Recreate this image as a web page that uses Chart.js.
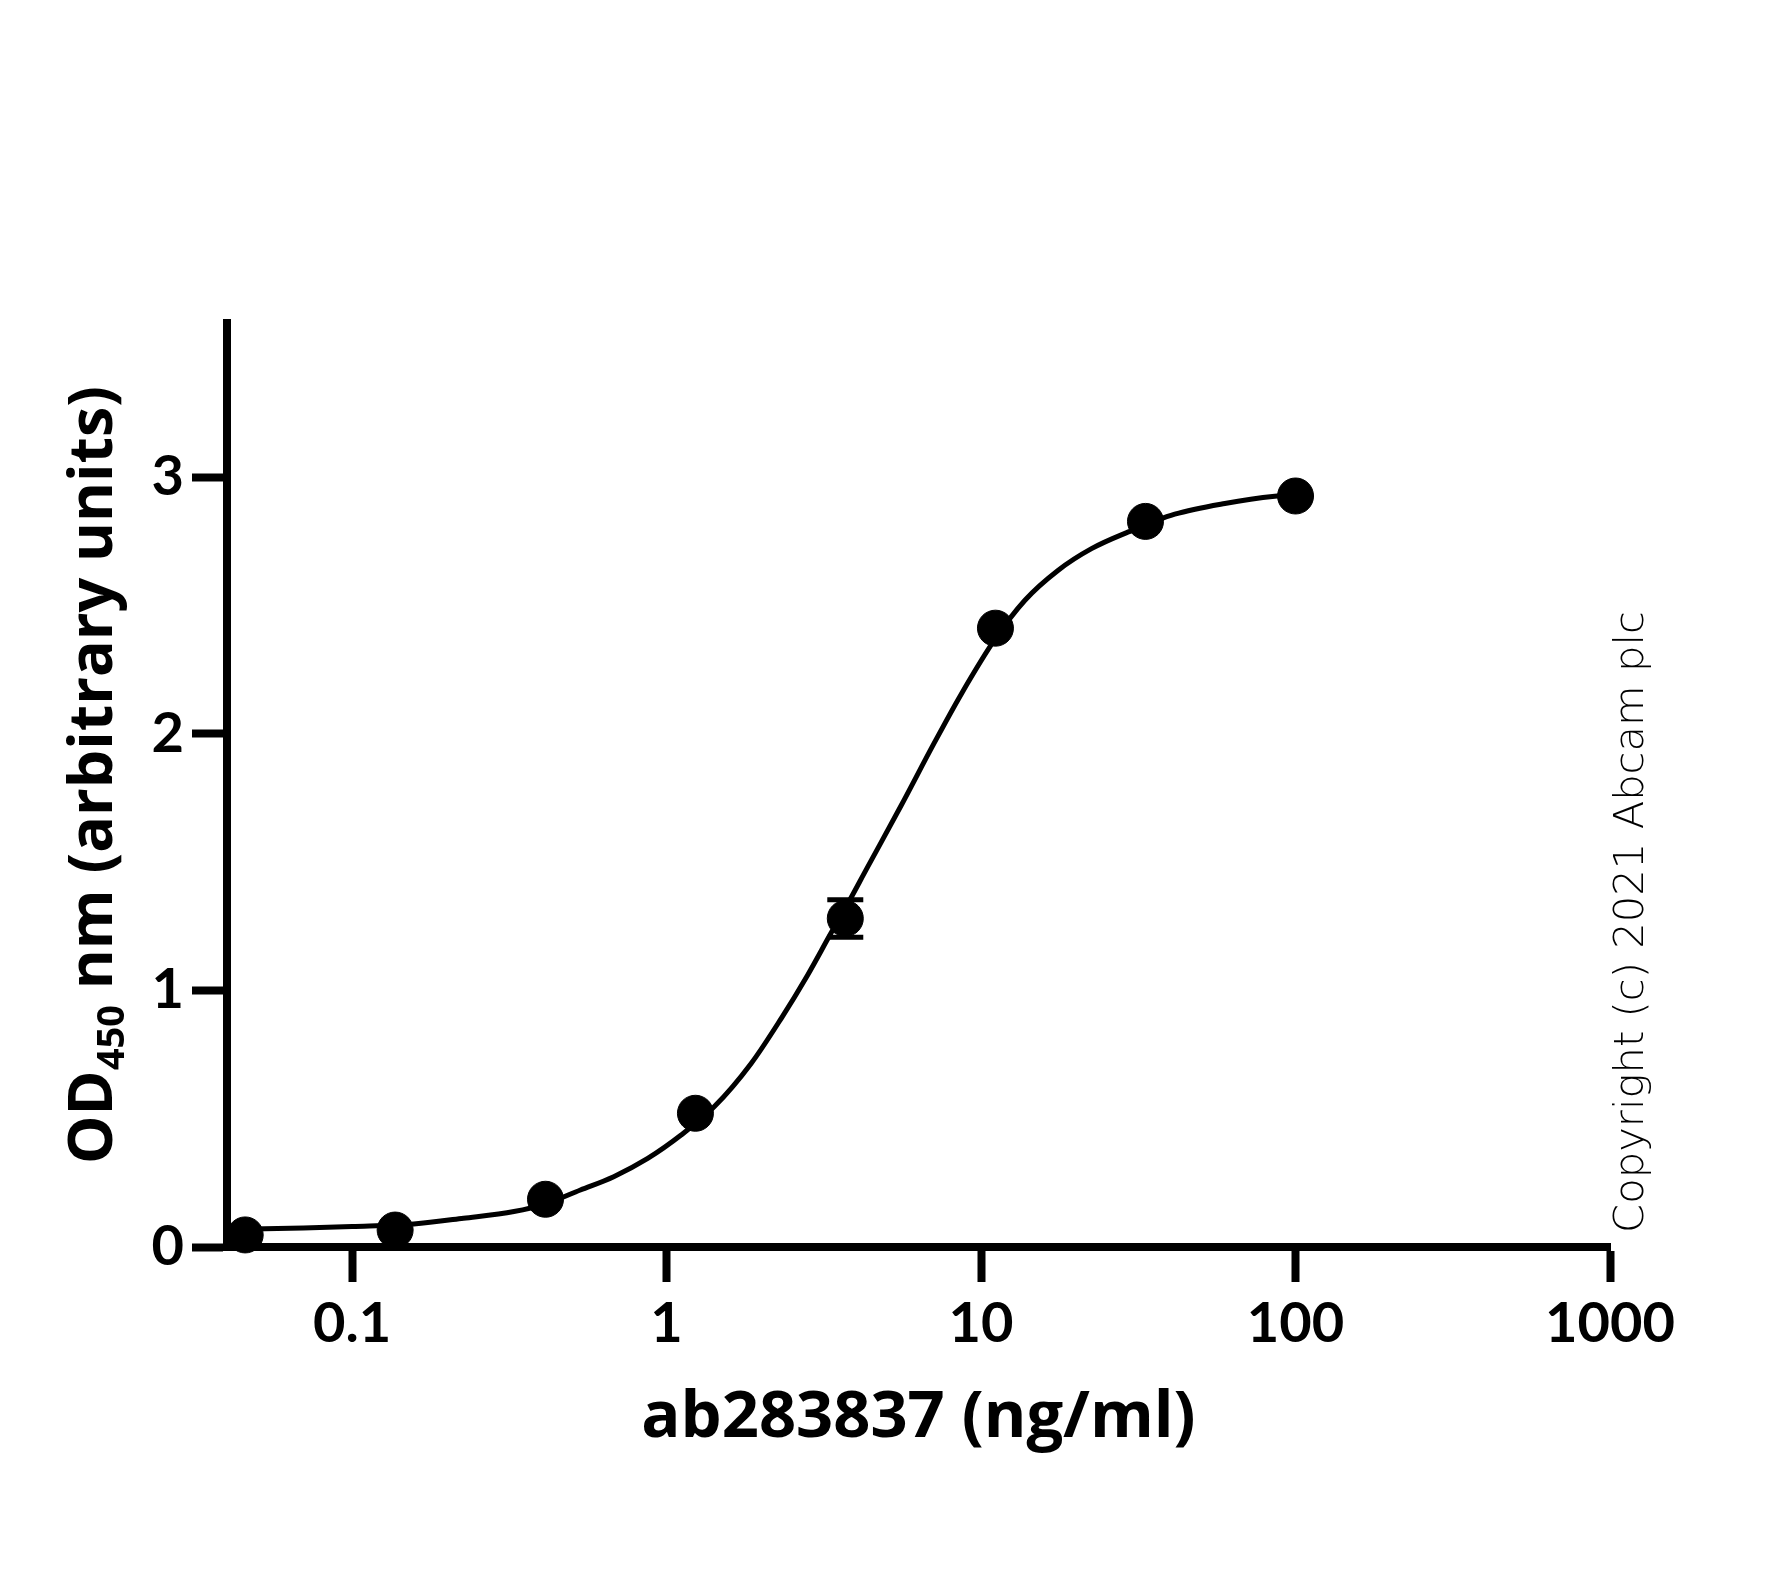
<!DOCTYPE html>
<html>
<head>
<meta charset="utf-8">
<script src="https://cdn.jsdelivr.net/npm/chart.js@4.4.1/dist/chart.umd.min.js"></script>
<style>
  html, body { margin: 0; padding: 0; background: #fff; }
  #wrap { width: 1789px; height: 1575px; position: relative; }
</style>
</head>
<body>
<div id="wrap"><canvas id="grafico"></canvas></div>
<script>
// concentracion (ng/ml) y OD450 medidos
const concentraciones = [0.0457, 0.137, 0.412, 1.235, 3.70, 11.11, 33.33, 100];
const od450 = [0.047, 0.066, 0.186, 0.521, 1.280, 2.411, 2.827, 2.926];
const errorOd = [0, 0, 0, 0, 0.073, 0, 0, 0];

// curva ajustada
const curvaX = [0.0457, 0.07, 0.1, 0.157, 0.226, 0.327, 0.41, 0.532, 0.679, 0.871, 1.112, 1.419, 1.857, 2.313, 2.81, 3.33, 3.7, 4.36, 5.57, 7.07, 8.61, 11.1, 13.79, 17.6, 22.45, 29.4, 41.3, 59.6, 85.9, 100];
const curvaY = [0.07, 0.074, 0.08, 0.09, 0.112, 0.138, 0.167, 0.222, 0.274, 0.345, 0.436, 0.547, 0.715, 0.89, 1.06, 1.222, 1.32, 1.481, 1.72, 1.96, 2.15, 2.37, 2.52, 2.637, 2.721, 2.786, 2.855, 2.897, 2.925, 2.93];

const ticksX = [0.1, 1, 10, 100, 1000];
const ticksY = [0, 1, 2, 3];

const tituloX = "ab283837 (ng/ml)";
const tituloY = [["OD", "main"], ["450", "sub"], [" nm (arbitrary units)", "main"]];
const copyright = "Copyright (c) 2021 Abcam plc";

const FUENTE = "Lato, 'Noto Sans', sans-serif";
const FUENTE_TIT = "'Open Sans', Lato, sans-serif";

const puntos = concentraciones.map((x, i) => ({ x: x, y: od450[i] }));
const curva = curvaX.map((x, i) => ({ x: x, y: curvaY[i] }));

// barras de error
const barrasError = {
  id: "barrasError",
  afterDatasetsDraw(chart) {
    const ctx = chart.ctx;
    const sx = chart.scales.x, sy = chart.scales.y;
    ctx.save();
    ctx.strokeStyle = "#000";
    ctx.lineWidth = 5;
    concentraciones.forEach((c, i) => {
      if (!errorOd[i]) return;
      const px = sx.getPixelForValue(c);
      const top = sy.getPixelForValue(od450[i] + errorOd[i]);
      const bot = sy.getPixelForValue(od450[i] - errorOd[i]);
      ctx.beginPath();
      ctx.moveTo(px, top); ctx.lineTo(px, bot);
      ctx.moveTo(px - 18, top); ctx.lineTo(px + 18, top);
      ctx.moveTo(px - 18, bot); ctx.lineTo(px + 18, bot);
      ctx.stroke();
    });
    ctx.restore();
  }
};

// titulo Y con subindice y texto de copyright
const textos = {
  id: "textos",
  afterDraw(chart) {
    const ctx = chart.ctx;
    ctx.save();
    ctx.fillStyle = "#000";
    let tamMain = 64, tamSub = 40;
    const medir = () => {
      let t = 0;
      tituloY.forEach(([s, k]) => {
        ctx.font = "bold " + (k === "sub" ? tamSub : tamMain) + "px " + FUENTE_TIT;
        t += ctx.measureText(s).width;
      });
      return t;
    };
    let total = medir();
    const f = Math.min(1.08, 778 / total);
    tamMain *= f; tamSub *= f;
    total = medir();
    ctx.translate(112, 775);
    ctx.rotate(-Math.PI / 2);
    ctx.textBaseline = "alphabetic";
    let x = -total / 2;
    tituloY.forEach(([s, k]) => {
      ctx.font = "bold " + (k === "sub" ? tamSub : tamMain) + "px " + FUENTE_TIT;
      ctx.fillText(s, x, k === "sub" ? 12 : 0);
      x += ctx.measureText(s).width;
    });
    ctx.restore();

    ctx.save();
    ctx.fillStyle = "#000";
    ctx.font = "200 40px 'DejaVu Sans', sans-serif";
    const w = ctx.measureText(copyright).width;
    const tam = Math.max(34, Math.min(44, 40 * 622 / w));
    ctx.font = "200 " + tam + "px 'DejaVu Sans', sans-serif";
    ctx.translate(1643, 922);
    ctx.rotate(-Math.PI / 2);
    ctx.textAlign = "center";
    ctx.textBaseline = "alphabetic";
    ctx.fillText(copyright, 0, 0);
    ctx.restore();
  }
};

new Chart(document.getElementById("grafico"), {
  type: "scatter",
  data: {
    datasets: [
      {
        label: "OD450",
        data: puntos,
        backgroundColor: "#000",
        borderColor: "#000",
        pointRadius: 18,
        pointHoverRadius: 18,
        clip: false
      },
      {
        label: "ajuste",
        data: curva,
        showLine: true,
        borderColor: "#000",
        borderWidth: 5,
        pointRadius: 0,
        cubicInterpolationMode: "monotone",
        clip: false
      }
    ]
  },
  options: {
    responsive: true,
    maintainAspectRatio: false,
    devicePixelRatio: 1,
    animation: false,
    layout: { padding: { left: 0, right: 179, top: 323, bottom: 0 } },
    plugins: { legend: { display: false }, tooltip: { enabled: false } },
    scales: {
      x: {
        type: "logarithmic",
        min: 0.04,
        max: 1000,
        afterBuildTicks: s => { s.ticks = ticksX.map(v => ({ value: v })); },
        afterFit: s => { s.height = 1575 - 1247; },
        border: { display: true, width: 8, color: "#000" },
        grid: { drawOnChartArea: false, drawTicks: true, tickLength: 35, tickWidth: 8, tickColor: "#000" },
        ticks: {
          color: "#000",
          padding: 8,
          maxRotation: 0,
          font: { family: FUENTE, size: 56, weight: "bold" },
          callback: v => String(v)
        },
        title: {
          display: true,
          text: tituloX,
          color: "#000",
          font: { family: FUENTE_TIT, size: 65, weight: "bold" },
          padding: { top: 0, bottom: 118 }
        }
      },
      y: {
        min: 0,
        max: 3.6,
        afterBuildTicks: s => { s.ticks = ticksY.map(v => ({ value: v })); },
        afterFit: s => { s.width = 227; },
        border: { display: true, width: 8, color: "#000" },
        grid: { drawOnChartArea: false, drawTicks: true, tickLength: 35, tickWidth: 8, tickColor: "#000" },
        ticks: {
          color: "#000",
          padding: 8,
          font: { family: FUENTE, size: 56, weight: "bold" },
          callback: v => String(v)
        }
      }
    }
  },
  plugins: [barrasError, textos]
});
</script>
</body>
</html>
